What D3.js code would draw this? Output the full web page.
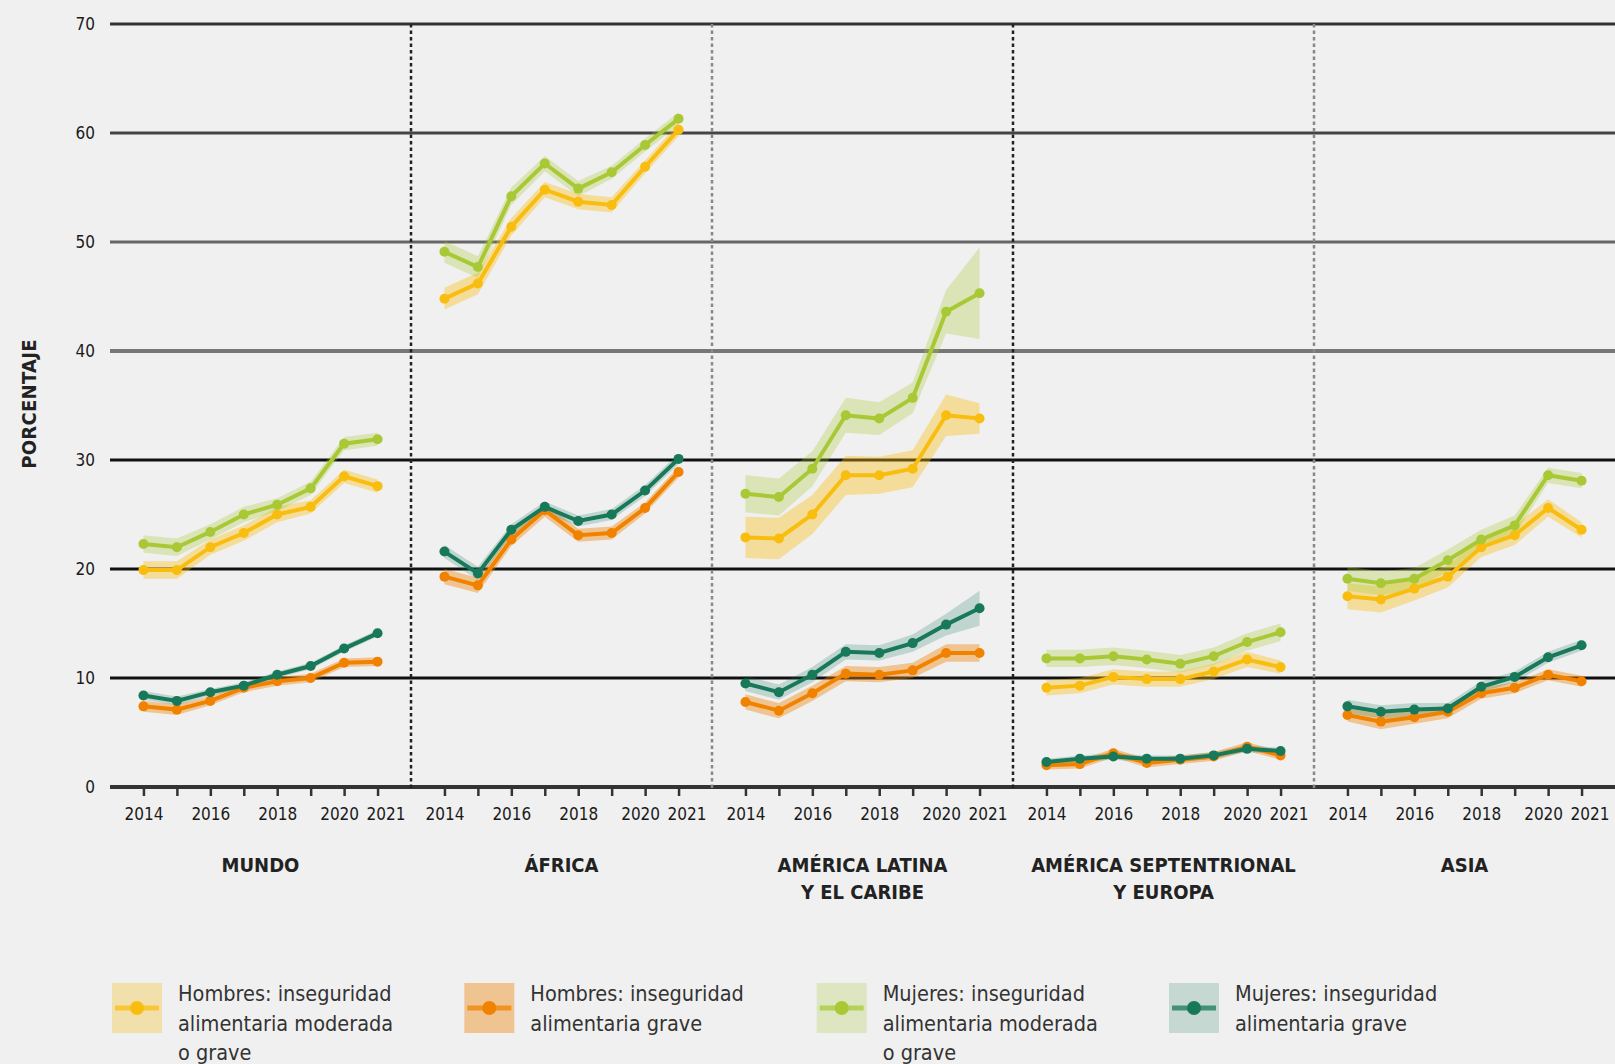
<!DOCTYPE html>
<html><head><meta charset="utf-8">
<script src="https://cdn.jsdelivr.net/npm/d3@7"></script>
<style>
body{margin:0;background:#f0f0f0}
svg{display:block}
text{font-family:"DejaVu Sans Condensed","Liberation Sans Narrow",sans-serif;font-stretch:condensed}
</style>
</head><body>
<svg id="c" width="1615" height="1064"></svg>
<script>
// ---------- data ----------
const years = [2014, 2015, 2016, 2017, 2018, 2019, 2020, 2021];
const yearTickLabels = [2014, 2016, 2018, 2020, 2021];
const yTicks = [0, 10, 20, 30, 40, 50, 60, 70];
const regions = [["MUNDO"], ["ÁFRICA"], ["AMÉRICA LATINA", "Y EL CARIBE"], ["AMÉRICA SEPTENTRIONAL", "Y EUROPA"], ["ASIA"]];
const yAxisTitle = "PORCENTAJE";

// rows: MUNDO, ÁFRICA, AMÉRICA LATINA, AMÉRICA SEPT. Y EUROPA, ASIA
const hombresModerada = [
  [19.9, 19.9, 22.0, 23.3, 25.0, 25.7, 28.5, 27.6],
  [44.8, 46.2, 51.4, 54.8, 53.7, 53.4, 56.9, 60.3],
  [22.9, 22.8, 25.0, 28.6, 28.6, 29.2, 34.1, 33.8],
  [9.1, 9.3, 10.1, 9.9, 9.9, 10.6, 11.7, 11.0],
  [17.5, 17.2, 18.2, 19.3, 22.0, 23.1, 25.6, 23.6]
];
const hombresGrave = [
  [7.4, 7.1, 7.9, 9.1, 9.7, 10.0, 11.4, 11.5],
  [19.3, 18.5, 22.7, 25.4, 23.1, 23.3, 25.6, 28.9],
  [7.8, 7.0, 8.6, 10.4, 10.3, 10.7, 12.3, 12.3],
  [2.0, 2.1, 3.1, 2.2, 2.5, 2.8, 3.7, 2.9],
  [6.6, 6.0, 6.4, 6.9, 8.6, 9.1, 10.3, 9.7]
];
const mujeresModerada = [
  [22.3, 22.0, 23.4, 25.0, 25.9, 27.4, 31.5, 31.9],
  [49.1, 47.7, 54.2, 57.2, 54.9, 56.4, 58.9, 61.3],
  [26.9, 26.6, 29.2, 34.1, 33.8, 35.7, 43.6, 45.3],
  [11.8, 11.8, 12.0, 11.7, 11.3, 12.0, 13.3, 14.2],
  [19.1, 18.7, 19.1, 20.8, 22.7, 24.0, 28.6, 28.1]
];
const mujeresGrave = [
  [8.4, 7.9, 8.7, 9.3, 10.3, 11.1, 12.7, 14.1],
  [21.6, 19.6, 23.6, 25.7, 24.4, 25.0, 27.2, 30.1],
  [9.5, 8.7, 10.3, 12.4, 12.3, 13.2, 14.9, 16.4],
  [2.3, 2.6, 2.8, 2.6, 2.6, 2.9, 3.5, 3.3],
  [7.4, 6.9, 7.1, 7.2, 9.2, 10.1, 11.9, 13.0]
];
// half-widths of the confidence bands
const hombresModeradaMargen = [
  [0.8, 0.8, 0.7, 0.7, 0.7, 0.6, 0.6, 0.6],
  [1.0, 1.0, 0.8, 0.7, 0.7, 0.7, 0.6, 0.6],
  [1.9, 1.9, 1.8, 1.8, 1.7, 1.7, 1.9, 1.4],
  [0.7, 0.7, 0.7, 0.7, 0.7, 0.7, 0.7, 0.6],
  [1.2, 1.2, 1.1, 1.0, 0.9, 0.9, 0.8, 0.7]
];
const hombresGraveMargen = [
  [0.5, 0.5, 0.4, 0.4, 0.4, 0.4, 0.4, 0.4],
  [0.7, 0.7, 0.6, 0.6, 0.6, 0.6, 0.5, 0.5],
  [0.7, 0.7, 0.7, 0.7, 0.7, 0.7, 0.8, 0.8],
  [0.4, 0.4, 0.4, 0.4, 0.4, 0.4, 0.4, 0.4],
  [0.6, 0.7, 0.6, 0.6, 0.5, 0.5, 0.5, 0.5]
];
const mujeresModeradaMargen = [
  [0.8, 0.8, 0.7, 0.7, 0.6, 0.6, 0.6, 0.6],
  [1.0, 1.0, 0.8, 0.7, 0.7, 0.6, 0.6, 0.6],
  [1.7, 1.7, 1.6, 1.6, 1.5, 1.4, 2.0, 4.2],
  [0.8, 0.8, 0.8, 0.8, 0.8, 0.8, 0.8, 0.8],
  [1.1, 1.1, 1.0, 1.0, 0.9, 0.9, 0.7, 0.7]
];
const mujeresGraveMargen = [
  [0.4, 0.4, 0.3, 0.3, 0.3, 0.3, 0.3, 0.3],
  [0.6, 0.6, 0.5, 0.5, 0.5, 0.5, 0.5, 0.5],
  [0.7, 0.7, 0.7, 0.7, 0.7, 0.8, 1.0, 1.6],
  [0.3, 0.3, 0.3, 0.3, 0.3, 0.3, 0.3, 0.3],
  [0.6, 0.6, 0.6, 0.5, 0.5, 0.5, 0.5, 0.5]
];
const legendLabels = [
  ["Hombres: inseguridad", "alimentaria moderada", "o grave"],
  ["Hombres: inseguridad", "alimentaria grave"],
  ["Mujeres: inseguridad", "alimentaria moderada", "o grave"],
  ["Mujeres: inseguridad", "alimentaria grave"]
];

// ---------- styles ----------
const series = [
  {vals: hombresModerada, err: hombresModeradaMargen, color: "#f9bd10", band: 0.38, sw: 0.3},
  {vals: hombresGrave, err: hombresGraveMargen, color: "#f08200", band: 0.4, sw: 0.4},
  {vals: mujeresModerada, err: mujeresModeradaMargen, color: "#a8c935", band: 0.3, sw: 0.25},
  {vals: mujeresGrave, err: mujeresGraveMargen, color: "#17785a", band: 0.22, sw: 0.2}
];
const gridColor = {0: "#333", 10: "#111", 20: "#111", 30: "#111", 40: "#777", 50: "#666", 60: "#444", 70: "#333"};
const dividerColor = ["#222", "#888", "#222", "#888"];
const tickLabelShift = {2020: -5, 2021: 8};

// ---------- layout ----------
const svg = d3.select("#c");
svg.append("rect").attr("width", 1615).attr("height", 1064).attr("fill", "#f0f0f0");

const panel = d3.scaleBand().domain(d3.range(regions.length)).range([110, 1615]);
const y = d3.scaleLinear().domain([0, 70]).range([787, 24]);

// gridlines
svg.append("g").selectAll("line").data(yTicks).join("line")
  .attr("x1", 110).attr("x2", 1615)
  .attr("y1", d => y(d)).attr("y2", d => y(d))
  .attr("stroke", d => gridColor[d]).attr("stroke-width", d => d === 0 ? 4 : (d === 40 ? 4 : 3));

// y tick labels
svg.append("g").selectAll("text").data(yTicks).join("text")
  .attr("x", 95).attr("y", d => y(d)).attr("dy", "0.35em")
  .attr("text-anchor", "end").attr("font-size", 17).attr("fill", "#1a1a1a")
  .text(d => d);

// y axis title
svg.append("text")
  .attr("transform", "translate(36,404) rotate(-90)")
  .attr("text-anchor", "middle").attr("font-size", 20).attr("font-weight", "bold").attr("fill", "#222")
  .attr("letter-spacing", 0.3)
  .text(yAxisTitle);

// dividers
svg.append("g").selectAll("line").data(d3.range(1, regions.length)).join("line")
  .attr("x1", d => panel(d)).attr("x2", d => panel(d))
  .attr("y1", y(70)).attr("y2", y(0) + 3)
  .attr("stroke", (d, i) => dividerColor[i]).attr("stroke-width", 2.5)
  .attr("stroke-dasharray", "3.5,3");

regions.forEach((reg, r) => {
  const x0 = panel(r), x1 = x0 + panel.bandwidth();
  const x = d3.scalePoint().domain(years).range([x0, x1]).padding(1);
  const g = svg.append("g");

  // ticks
  const ax = g.append("g").attr("transform", `translate(0,${y(0)})`)
    .call(d3.axisBottom(x).tickSize(9).tickPadding(12)
      .tickFormat(d => yearTickLabels.includes(d) ? d : ""));
  ax.select(".domain").remove();
  ax.selectAll(".tick line").attr("stroke", "#333").attr("stroke-width", 2.5);
  ax.selectAll(".tick text").attr("font-size", 17).attr("fill", "#1a1a1a")
    .attr("dx", d => tickLabelShift[d] || 0)
    .attr("font-family", '"DejaVu Sans Condensed","Liberation Sans Narrow",sans-serif');

  // bands
  series.forEach(s => {
    const pts = years.map((yr, i) => ({yr, v: s.vals[r][i], e: s.err[r][i]}));
    g.append("path").datum(pts)
      .attr("d", d3.area().x(d => x(d.yr)).y0(d => y(d.v - d.e)).y1(d => y(d.v + d.e)))
      .attr("fill", s.color).attr("fill-opacity", s.band);
  });
  // lines + dots
  series.forEach(s => {
    const pts = years.map((yr, i) => ({yr, v: s.vals[r][i]}));
    g.append("path").datum(pts)
      .attr("d", d3.line().x(d => x(d.yr)).y(d => y(d.v)))
      .attr("fill", "none").attr("stroke", s.color).attr("stroke-width", 4);
    g.append("g").selectAll("circle").data(pts).join("circle")
      .attr("cx", d => x(d.yr)).attr("cy", d => y(d.v)).attr("r", 5)
      .attr("fill", s.color);
  });

  // panel title
  g.append("g").selectAll("text").data(reg).join("text")
    .attr("x", (x0 + x1) / 2).attr("y", (d, i) => 872 + i * 27)
    .attr("text-anchor", "middle").attr("font-size", 20).attr("font-weight", "bold").attr("fill", "#222")
    .text(d => d);
});

// legend
const lx = d3.scalePoint().domain(d3.range(legendLabels.length)).range([112, 1169]);
legendLabels.forEach((lines, i) => {
  const s = series[i];
  const g = svg.append("g").attr("transform", `translate(${lx(i)},983)`);
  g.append("rect").attr("width", 50).attr("height", 50).attr("fill", s.color).attr("fill-opacity", s.sw);
  g.append("line").attr("x1", 3).attr("x2", 47).attr("y1", 25).attr("y2", 25)
    .attr("stroke", s.color).attr("stroke-width", 5).attr("stroke-opacity", 0.75);
  g.append("circle").attr("cx", 25).attr("cy", 25).attr("r", 7).attr("fill", s.color);
  g.selectAll("text").data(lines).join("text")
    .attr("x", 66).attr("y", (d, k) => 18 + k * 29.5)
    .attr("font-size", 21.5).attr("fill", "#333")
    .text(d => d);
});
</script>
</body></html>
